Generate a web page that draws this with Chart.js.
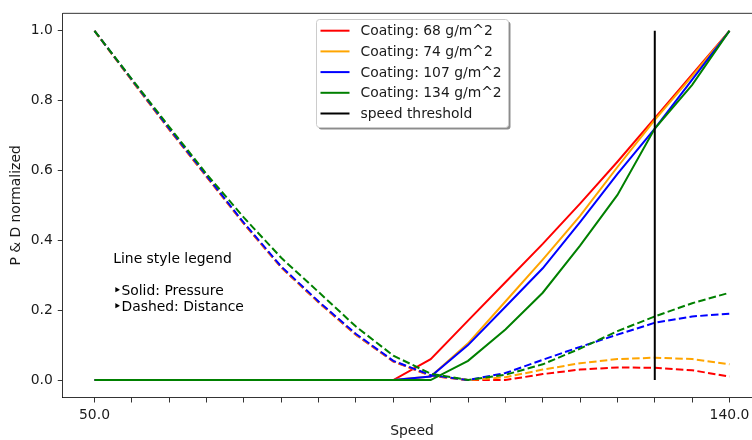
<!DOCTYPE html>
<html>
<head>
<meta charset="utf-8">
<script src="https://cdn.jsdelivr.net/npm/chart.js@4/dist/chart.umd.min.js"></script>
<style>
  html, body { margin: 0; padding: 0; background: #ffffff; overflow: hidden; width: 752px; height: 440px; }
  #wrap { position: absolute; left: 0; top: 0; width: 800px; height: 440px; }
</style>
</head>
<body>
<div id="wrap"><canvas id="c" width="800" height="440"></canvas></div>
<script>
// ---- data ----
const speeds = [50.0, 55.29, 60.59, 65.88, 71.18, 76.47, 81.76, 87.06, 92.35, 97.65, 102.94, 108.24, 113.53, 118.82, 124.12, 129.41, 134.71, 140.0];

const coatingLabels = ['Coating: 68 g/m^2', 'Coating: 74 g/m^2', 'Coating: 107 g/m^2', 'Coating: 134 g/m^2'];

const pressure68  = [0, 0, 0, 0, 0, 0, 0, 0, 0, 0.06, 0.17, 0.28, 0.39, 0.505, 0.625, 0.75, 0.875, 1.0];
const pressure74  = [0, 0, 0, 0, 0, 0, 0, 0, 0, 0.01, 0.105, 0.225, 0.345, 0.47, 0.61, 0.745, 0.87, 1.0];
const pressure107 = [0, 0, 0, 0, 0, 0, 0, 0, 0, 0.01, 0.1, 0.21, 0.32, 0.452, 0.59, 0.72, 0.86, 1.0];
const pressure134 = [0, 0, 0, 0, 0, 0, 0, 0, 0, 0, 0.055, 0.145, 0.25, 0.385, 0.53, 0.72, 0.845, 1.0];

const distance68  = [1.0, 0.858, 0.717, 0.582, 0.447, 0.322, 0.222, 0.129, 0.053, 0.012, 0.0, 0.0, 0.017, 0.03, 0.036, 0.035, 0.028, 0.01];
const distance74  = [1.0, 0.858, 0.718, 0.583, 0.448, 0.323, 0.223, 0.13, 0.054, 0.013, 0.0, 0.008, 0.03, 0.048, 0.06, 0.064, 0.06, 0.045];
const distance107 = [1.0, 0.86, 0.72, 0.585, 0.45, 0.325, 0.225, 0.132, 0.055, 0.014, 0.0, 0.02, 0.058, 0.095, 0.13, 0.164, 0.182, 0.19];
const distance134 = [1.0, 0.862, 0.725, 0.59, 0.465, 0.35, 0.252, 0.153, 0.07, 0.018, 0.0, 0.015, 0.045, 0.09, 0.14, 0.182, 0.22, 0.25];

const thresholdLabel = 'speed threshold';
const thresholdSpeed = 129.41;
const thresholdRange = [0, 1.0];

const yTicks = [0.0, 0.2, 0.4, 0.6, 0.8, 1.0];
const xLabelTicks = [50.0, 140.0];

const xTitle = 'Speed';
const yTitle = 'P & D normalized';
const noteLines = ['Line style legend', '', '\u2023Solid: Pressure', '\u2023Dashed: Distance'];

// ---- styles ----
const seriesColors = ['#ff0000', '#ffa500', '#0000ff', '#008000'];
const FONT = "'DejaVu Sans', sans-serif";
const FS = 13.9;
const TXT = '#1a1a1a';

const pressures = [pressure68, pressure74, pressure107, pressure134];
const distances = [distance68, distance74, distance107, distance134];
const toXY = arr => speeds.map((s, i) => ({ x: s, y: arr[i] }));

const datasets = [];
let k = 0;
coatingLabels.forEach((lab, i) => {
  datasets.push({ label: lab, data: toXY(pressures[i]), borderColor: seriesColors[i], borderWidth: 2,
    pointRadius: 0, tension: 0, fill: false, order: 100 - (k++), _legend: true });
  datasets.push({ label: lab + ' distance', data: toXY(distances[i]), borderColor: seriesColors[i], borderWidth: 2,
    borderDash: [7.5, 3.3], pointRadius: 0, tension: 0, fill: false, order: 100 - (k++), _legend: false });
});
datasets.push({ label: thresholdLabel, data: thresholdRange.map(v => ({ x: thresholdSpeed, y: v })),
  borderColor: '#000000', borderWidth: 2, pointRadius: 0, tension: 0, fill: false, order: 100 - (k++), _legend: true });

const overlay = {
  id: 'overlay',
  afterDatasetsDraw(chart) {
    const ctx = chart.ctx;
    const a = chart.chartArea;
    ctx.save();
    // top spine
    ctx.strokeStyle = '#000';
    ctx.lineWidth = 0.8;
    ctx.beginPath();
    ctx.moveTo(a.left, a.top); ctx.lineTo(a.right, a.top);
    ctx.moveTo(a.right, a.top); ctx.lineTo(a.right, a.bottom);
    ctx.stroke();

    // note text
    ctx.fillStyle = '#000';
    ctx.font = FS + 'px ' + FONT;
    ctx.textBaseline = 'alphabetic';
    ctx.textAlign = 'left';
    const nx = a.left + 50.5, ny0 = 263.3, nstep = 15.9;
    noteLines.forEach((t, i) => { if (t) ctx.fillText(t, nx, ny0 + i * nstep); });

    // legend box
    const items = chart.data.datasets.filter(d => d._legend);
    const bx = 316.5, by = 19.5, bw = 192, bh = 108;
    const r = 3;
    const rr = (x, y, w, h) => {
      ctx.beginPath();
      ctx.moveTo(x + r, y); ctx.lineTo(x + w - r, y); ctx.quadraticCurveTo(x + w, y, x + w, y + r);
      ctx.lineTo(x + w, y + h - r); ctx.quadraticCurveTo(x + w, y + h, x + w - r, y + h);
      ctx.lineTo(x + r, y + h); ctx.quadraticCurveTo(x, y + h, x, y + h - r);
      ctx.lineTo(x, y + r); ctx.quadraticCurveTo(x, y, x + r, y);
      ctx.closePath();
    };
    ctx.fillStyle = 'rgba(0,0,0,0.45)';
    rr(bx + 2, by + 2, bw, bh); ctx.fill();
    ctx.fillStyle = '#ffffff';
    rr(bx, by, bw, bh); ctx.fill();
    ctx.strokeStyle = '#cccccc'; ctx.lineWidth = 1;
    rr(bx, by, bw, bh); ctx.stroke();

    ctx.textBaseline = 'middle';
    ctx.font = FS + 'px ' + FONT;
    items.forEach((d, i) => {
      const y = 30.7 + i * 20.7;
      ctx.strokeStyle = d.borderColor; ctx.lineWidth = 2; ctx.setLineDash([]);
      ctx.beginPath(); ctx.moveTo(320.5, y); ctx.lineTo(349.5, y); ctx.stroke();
      ctx.fillStyle = TXT;
      ctx.fillText(d.label, 360.5, y + 1);
    });
    ctx.restore();
  }
};

new Chart(document.getElementById('c'), {
  type: 'line',
  data: { datasets },
  options: {
    responsive: false,
    animation: false,
    events: [],
    layout: { padding: { left: 0, top: 12.5, right: 38.75, bottom: 0 } },
    plugins: { legend: { display: false }, tooltip: { enabled: false } },
    scales: {
      x: {
        type: 'linear', min: 45.5, max: 144.5,
        afterBuildTicks: s => { s.ticks = speeds.map(v => ({ value: v })); },
        afterFit: s => { s.height = 42.5; },
        ticks: {
          autoSkip: false, maxRotation: 0, padding: 4.5, color: TXT,
          font: { family: FONT, size: FS },
          callback: v => (xLabelTicks.some(t => Math.abs(t - v) < 1e-6) ? v.toFixed(1) : '')
        },
        grid: { drawOnChartArea: false, drawTicks: true, tickLength: 5, color: '#000', lineWidth: 0.8 },
        border: { display: true, color: '#000', width: 0.8 },
        title: { display: true, text: xTitle, color: TXT, font: { family: FONT, size: FS }, padding: { top: 0, bottom: 0 } }
      },
      y: {
        type: 'linear', min: -0.05, max: 1.05,
        afterBuildTicks: s => { s.ticks = yTicks.map(v => ({ value: v })); },
        afterFit: s => { s.width = 62.75; },
        ticks: { padding: 5, color: TXT, font: { family: FONT, size: FS }, callback: v => v.toFixed(1) },
        grid: { drawOnChartArea: false, drawTicks: true, tickLength: 5, color: '#000', lineWidth: 0.8 },
        border: { display: true, color: '#000', width: 0.8 },
        title: { display: true, text: yTitle, color: TXT, font: { family: FONT, size: FS }, padding: { top: 8.4, bottom: 0 } }
      }
    }
  },
  plugins: [overlay]
});
</script>
</body>
</html>
